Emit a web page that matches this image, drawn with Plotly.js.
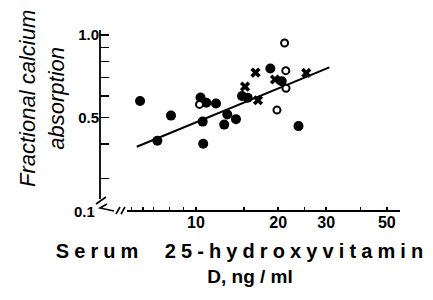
<!DOCTYPE html>
<html>
<head>
<meta charset="utf-8">
<script src="https://cdn.plot.ly/plotly-3.0.1.min.js"></script>
<style>
html,body{margin:0;padding:0;background:#fff;}
#chart{width:433px;height:300px;}
</style>
</head>
<body>
<div id="chart"></div>
<script>
// Filled circles
const filledX = [6.24, 7.22, 8.10, 10.39, 10.91, 11.84, 10.58, 10.63, 12.69, 13.02, 14.01, 14.74, 15.47, 18.72, 20.61, 23.74];
const filledY = [0.574, 0.411, 0.508, 0.591, 0.566, 0.562, 0.483, 0.401, 0.471, 0.513, 0.493, 0.599, 0.590, 0.755, 0.678, 0.465];
// Open circles
const openX = [10.30, 21.11, 21.33, 21.37, 19.80];
const openY = [0.558, 0.935, 0.741, 0.639, 0.532];
// Crosses
const crossX = [15.12, 16.87, 16.52, 19.47, 25.35];
const crossY = [0.648, 0.578, 0.729, 0.688, 0.727];
// Regression line end points
const lineX = [6.07, 30.8];
const lineY = [0.391, 0.762];

// Ticks
const xTickVals = [5.8, 6.4, 7, 8, 9, 10, 15, 20, 25, 30, 40, 50];
const xTickText = ['', '', '', '', '', '10', '', '20', '', '30', '', '50'];
const yTickVals = [0.3, 0.4, 0.5, 0.6, 0.7, 0.8, 0.9, 1.0];
const yTickText = ['', '', '0.5', '', '', '', '', '1.0'];
const yBreakLabel = '0.1';

const xTitle = '<b>Serum\u00a0\u00a025-hydroxyvitamin</b><br><b>D, ng / ml</b>';
const yTitle = 'Fractional calcium<br>absorption';

// Plot-area geometry helpers (pixels -> paper)
const L = 100, T = 30, W = 300, H = 181;
const px = x => (x - L) / W;
const py = y => (T + H - y) / H;

const traces = [
  {x: lineX, y: lineY, mode: 'lines', line: {color: '#000', width: 2}, hoverinfo: 'skip'},
  {x: filledX, y: filledY, mode: 'markers', marker: {symbol: 'circle', size: 10, color: '#000'}},
  {x: openX, y: openY, mode: 'markers', marker: {symbol: 'circle', size: 7, color: '#fff', line: {color: '#000', width: 2}}},
  {x: crossX, y: crossY, mode: 'markers', marker: {symbol: 'x', size: 9, color: '#000', line: {width: 0}}}
];

const fontFam = '"Liberation Sans", Arial, sans-serif';

const layout = {
  width: 433, height: 300,
  margin: {l: L, r: 433 - L - W, t: T, b: 300 - T - H},
  paper_bgcolor: '#fff', plot_bgcolor: '#fff',
  showlegend: false,
  font: {family: fontFam, color: '#000'},
  xaxis: {
    type: 'log', range: [0.6484, 1.7473],
    showgrid: false, zeroline: false, showline: false,
    tickmode: 'array', tickvals: xTickVals, ticktext: xTickText,
    ticks: 'inside', ticklen: 4, tickwidth: 1.5, tickcolor: '#000',
    tickfont: {size: 16, family: fontFam},
    title: {text: xTitle, font: {size: 19, family: fontFam}, standoff: 14}
  },
  yaxis: {
    type: 'log', range: [-0.6423, 0.0182],
    showgrid: false, zeroline: false, showline: false,
    tickmode: 'array', tickvals: yTickVals, ticktext: yTickText,
    ticks: 'inside', ticklen: 9, tickwidth: 1.5, tickcolor: '#000',
    tickfont: {size: 15, family: fontFam}
  },
  annotations: [
    {xref: 'paper', yref: 'paper', x: 0, y: 0, xanchor: 'right', yanchor: 'middle', xshift: -3,
     text: yBreakLabel, showarrow: false, font: {size: 15, family: fontFam}},
    {xref: 'paper', yref: 'paper', x: px(42), y: py(99), xanchor: 'center', yanchor: 'middle',
     text: yTitle, textangle: -90, showarrow: false, font: {size: 22, family: fontFam, style: 'italic'}}
  ],
  shapes: [
    // y axis line
    {type: 'line', xref: 'paper', yref: 'paper', x0: 0, x1: 0, y0: py(199), y1: 1, line: {color: '#000', width: 1.8}},
    // y break slash
    {type: 'line', xref: 'paper', yref: 'paper', x0: px(96), x1: px(106), y0: py(204), y1: py(197), line: {color: '#000', width: 1.6}},
    // hook into x axis
    {type: 'path', xref: 'paper', yref: 'paper',
     path: `M ${px(107)},${py(204)} L ${px(100)},${py(208)} L ${px(114)},${py(211)}`, line: {color: '#000', width: 1.6}},
    // x break slashes
    {type: 'line', xref: 'paper', yref: 'paper', x0: px(116), x1: px(120), y0: py(214), y1: py(207), line: {color: '#000', width: 1.6}},
    {type: 'line', xref: 'paper', yref: 'paper', x0: px(121), x1: px(125), y0: py(214), y1: py(207), line: {color: '#000', width: 1.6}},
    // x axis line
    {type: 'line', xref: 'paper', yref: 'paper', x0: px(127), x1: 1, y0: 0, y1: 0, line: {color: '#000', width: 1.8}}
  ]
};

const gd = document.getElementById('chart');
function restyleText() {
  gd.querySelectorAll('.xtick text, .ytick text, .annotation-text').forEach(el => {
    if (!el.closest('.annotation') || el.textContent === yBreakLabel) el.style.fontWeight = 'bold';
  });
  gd.querySelectorAll('.xtitle').forEach(el => {
    el.style.fontWeight = 'bold';
    const lines = el.querySelectorAll('tspan.line');
    if (lines.length) {
      lines[0].style.fontSize = '20px';
      lines[0].setAttribute('letter-spacing', '5.1px');
      lines[0].setAttribute('dx', '-8');
    }
  });
}
Plotly.newPlot(gd, traces, layout, {staticPlot: true, displayModeBar: false}).then(() => {
  restyleText();
  gd.on && gd.on('plotly_afterplot', restyleText);
});
</script>
</body>
</html>
